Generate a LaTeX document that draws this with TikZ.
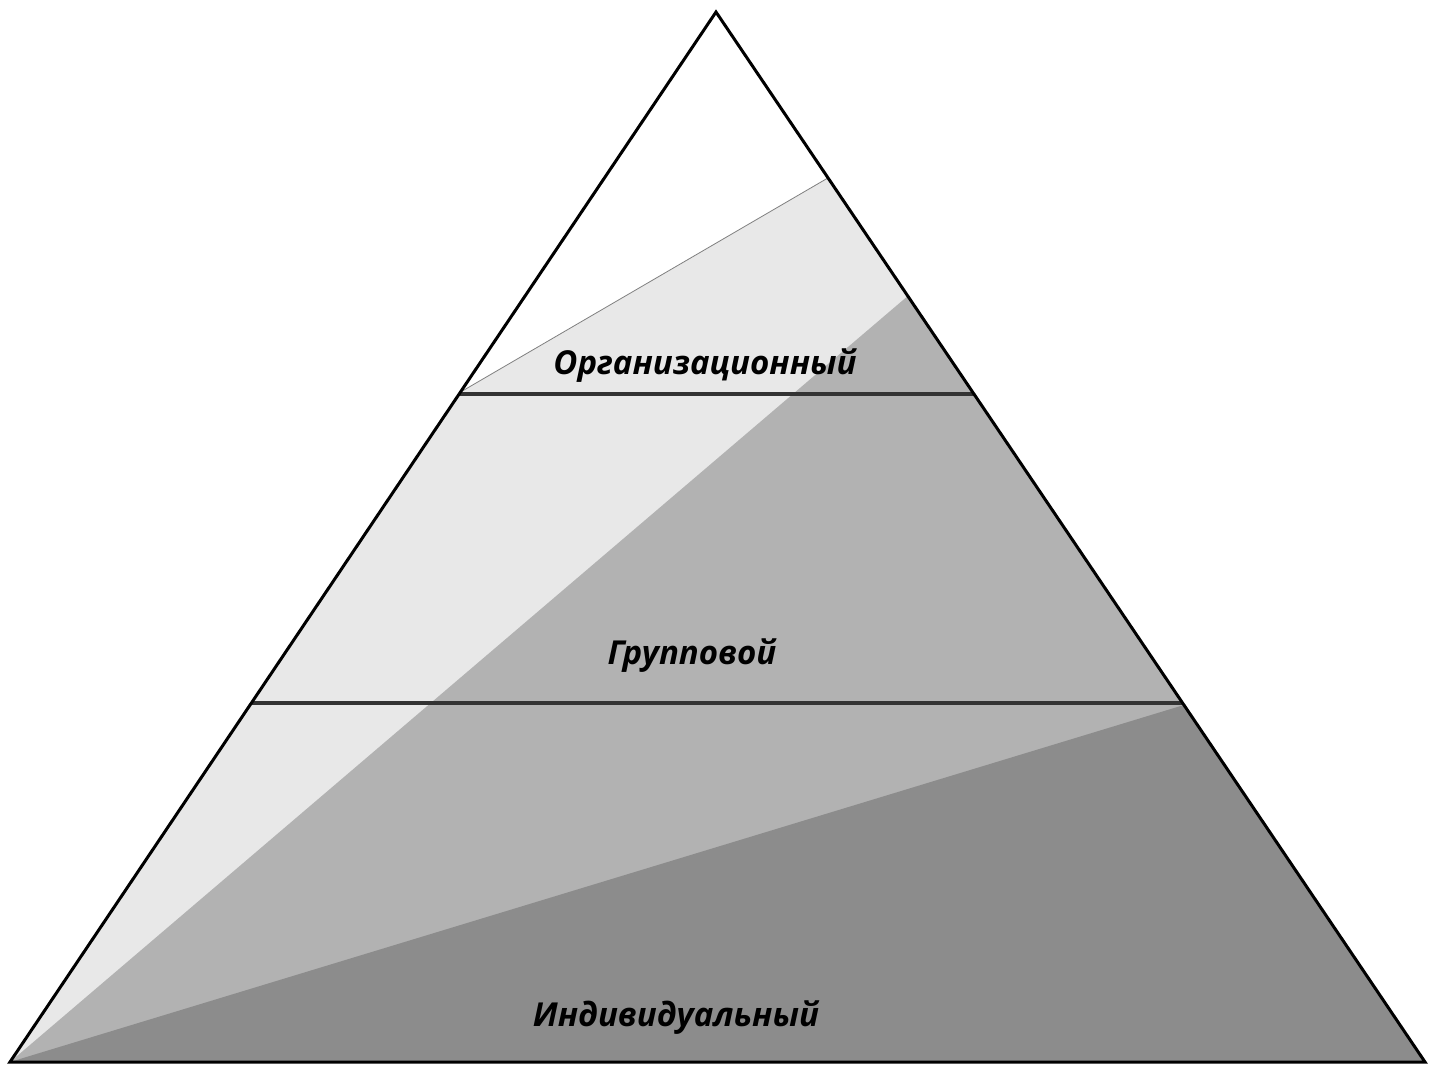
\documentclass[tikz,border=0pt]{standalone}
\usepackage{fontspec}
\setmainfont{Open Sans}
\usetikzlibrary{calc}

\definecolor{tierlight}{gray}{0.91}
\definecolor{tiermid}{gray}{0.70}
\definecolor{tierdark}{gray}{0.55}
\definecolor{edgegray}{gray}{0.2}

\tikzset{
  outline/.style={draw=black,line width=3pt,line join=miter},
  tierline/.style={draw=edgegray,line width=3.5pt},
  seam/.style={draw=gray,line width=0.8pt},
  tierlabel/.style={font=\fontsize{33}{40}\selectfont\bfseries\itshape,inner sep=0pt}
}

\begin{document}
\begin{tikzpicture}[x=1pt,y=-1pt]

      \useasboundingbox (0,0) rectangle (1435,1067);

      % corners of the pyramid
      \coordinate (top)   at (716,12);
      \coordinate (left)  at (10,1062);
      \coordinate (right) at (1425,1062);

      % points on the sides
      \coordinate (lseam) at ($(top)!0.362!(left)$);
      \coordinate (rseam) at ($(top)!0.158!(right)$);
      \coordinate (rmid)  at ($(top)!0.2705!(right)$);
      \coordinate (rlow)  at ($(top)!0.66!(right)$);
      \coordinate (l1) at ($(top)!0.3638!(left)$);
      \coordinate (r1) at ($(top)!0.3638!(right)$);
      \coordinate (l2) at ($(top)!0.6581!(left)$);
      \coordinate (r2) at ($(top)!0.6581!(right)$);

      % shaded parts
      \fill[white]     (top) -- (left) -- (right) -- cycle;
      \fill[tierlight] (left) -- (lseam) -- (rseam) -- (right) -- cycle;
      \fill[tiermid]   (left) -- (rmid) -- (right) -- cycle;
      \fill[tierdark]  (left) -- (rlow) -- (right) -- cycle;
      \path[seam] (lseam) -- (rseam);

      % tiers
      \path[tierline] (l1) -- (r1);
      \path[tierline] (l2) -- (r2);
      \path[outline] (top) -- (left) -- (right) -- cycle;

      \begin{scope}[every node/.style={tierlabel}]
        \node (org) at (705,366)  {Организационный};
        \node (grp) at (692,656)  {Групповой};
        \node (ind) at (676,1018) {Индивидуальный};
      \end{scope}

    \end{tikzpicture}
\end{document}
